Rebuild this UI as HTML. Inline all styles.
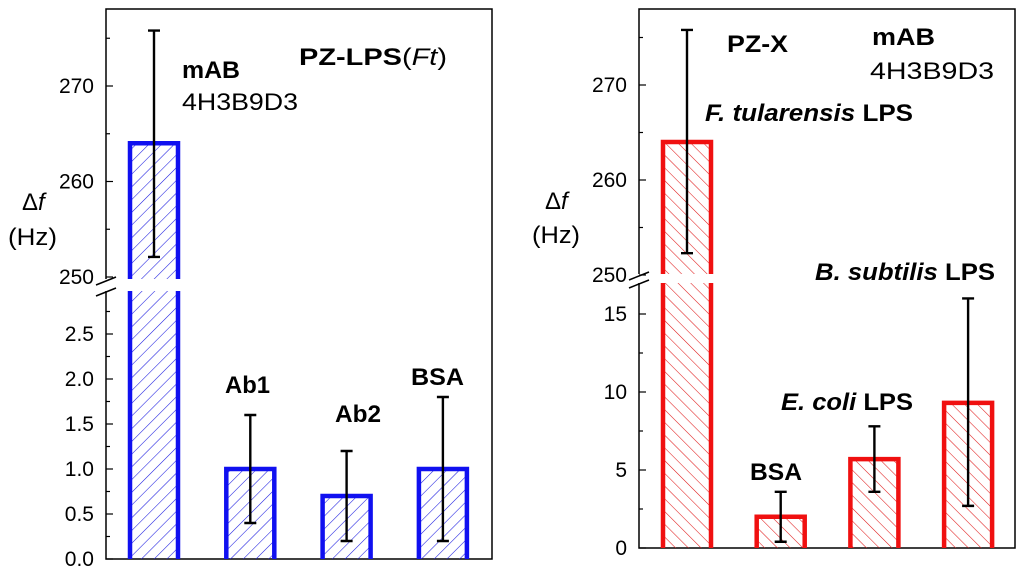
<!DOCTYPE html>
<html><head><meta charset="utf-8"><style>
html,body{margin:0;padding:0;background:#fff;width:1024px;height:576px;overflow:hidden}
svg{display:block;font-family:"Liberation Sans",Arial,sans-serif}
</style></head><body>
<svg id="chart" width="1024" height="576" viewBox="0 0 1024 576" xmlns="http://www.w3.org/2000/svg">
<defs>
<pattern id="hatchBlue" width="9" height="9" patternUnits="userSpaceOnUse" patternTransform="rotate(45)">
<line x1="0" y1="0" x2="0" y2="9" stroke="#1a1ae0" stroke-width="1.1"/></pattern>
<pattern id="hatchRed" width="9" height="9" patternUnits="userSpaceOnUse" patternTransform="rotate(-45)">
<line x1="0" y1="0" x2="0" y2="9" stroke="#e01a1a" stroke-width="1.1"/></pattern>
</defs>
<g id="left"></g>
<g id="right"></g>
<g style="font-size:24px" fill="#000">
<text x="182" y="78" font-weight="bold" textLength="58" lengthAdjust="spacingAndGlyphs">mAB</text>
<text x="182" y="110" textLength="116" lengthAdjust="spacingAndGlyphs">4H3B9D3</text>
<text x="299" y="65" font-weight="bold" textLength="148" lengthAdjust="spacingAndGlyphs">PZ-LPS<tspan font-weight="normal">(<tspan font-style="italic">Ft</tspan>)</tspan></text>
<text x="22" y="210">Δ<tspan font-style="italic">f</tspan></text>
<text x="8" y="245" textLength="49" lengthAdjust="spacingAndGlyphs">(Hz)</text>
<text x="225" y="393" font-weight="bold" textLength="45" lengthAdjust="spacingAndGlyphs">Ab1</text>
<text x="335" y="422" font-weight="bold" textLength="46" lengthAdjust="spacingAndGlyphs">Ab2</text>
<text x="411" y="385" font-weight="bold" textLength="53" lengthAdjust="spacingAndGlyphs">BSA</text>
<text x="727" y="52" font-weight="bold" textLength="61" lengthAdjust="spacingAndGlyphs">PZ-X</text>
<text x="872" y="45" font-weight="bold" textLength="63" lengthAdjust="spacingAndGlyphs">mAB</text>
<text x="870" y="79" textLength="124" lengthAdjust="spacingAndGlyphs">4H3B9D3</text>
<text x="705" y="121" font-weight="bold" textLength="208" lengthAdjust="spacingAndGlyphs"><tspan font-style="italic">F. tularensis</tspan> LPS</text>
<text x="815" y="280" font-weight="bold" textLength="180" lengthAdjust="spacingAndGlyphs"><tspan font-style="italic">B. subtilis</tspan> LPS</text>
<text x="781" y="410" font-weight="bold" textLength="132" lengthAdjust="spacingAndGlyphs"><tspan font-style="italic">E. coli</tspan> LPS</text>
<text x="750" y="480" font-weight="bold" textLength="52" lengthAdjust="spacingAndGlyphs">BSA</text>
<text x="545" y="209">Δ<tspan font-style="italic">f</tspan></text>
<text x="532" y="243" textLength="48" lengthAdjust="spacingAndGlyphs">(Hz)</text>
</g>
</svg>
<script>
const leftCats=["mAB","Ab1","Ab2","BSA"];
const leftVals=[264,1.0,0.7,1.0];
const leftLo=[252.1,0.4,0.2,0.2];
const leftHi=[275.8,1.6,1.2,1.8];
const leftUpTicks=[250,260,270];
const leftUpLabels=["250","260","270"];
const leftLowTicks=[0,0.5,1,1.5,2,2.5];
const leftLowLabels=["0.0","0.5","1.0","1.5","2.0","2.5"];
const rightCats=["F. tularensis LPS","BSA","E. coli LPS","B. subtilis LPS"];
const rightVals=[264,2.0,5.7,9.3];
const rightLo=[252.3,0.4,3.6,2.7];
const rightHi=[275.8,3.6,7.8,16.0];
const rightUpTicks=[250,260,270];
const rightUpLabels=["250","260","270"];
const rightLowTicks=[0,5,10,15];
const rightLowLabels=["0","5","10","15"];

const NS="http://www.w3.org/2000/svg";
function mk(parent,tag,attrs){const e=document.createElementNS(NS,tag);for(const k in attrs)e.setAttribute(k,attrs[k]);parent.appendChild(e);return e;}

function panel(g,cfg,cats,vals,lo,hi,upT,upL,lowT,lowL){
  const yUp=v=>cfg.up0y+(cfg.up0v-v)*cfg.upScale;
  const yLow=v=>cfg.bottom-v*cfg.lowScale;
  const y=v=>v>=cfg.upMin?yUp(v):yLow(Math.min(v,cfg.lowMax));
  const xC=i=>cfg.x0+i*cfg.step;
  const bw=cfg.bw;
  let f=mk(g,'path',{d:`M${cfg.left},${cfg.gapTop} V${cfg.top} H${cfg.right} V${cfg.bottom} H${cfg.left} V${cfg.gapBot}`,fill:'none',stroke:'#000','stroke-width':1.5});
  
  
  [cfg.gapTop+2,cfg.gapBot+1].forEach((yy,k)=>{const l=mk(g,'line',{x1:cfg.left-10,y1:yy+4,x2:cfg.left+10,y2:yy-4,stroke:'#000','stroke-width':1.5});
    
    });
  upT.forEach((t,i)=>{const yy=yUp(t);
    const tk=mk(g,'line',{x1:cfg.left,y1:yy,x2:cfg.left+7,y2:yy,stroke:'#000','stroke-width':1.2});
    
    
    const tx=mk(g,'text',{x:cfg.left-12,y:yy+7,'text-anchor':'end',style:'font-size:21px'});tx.textContent=upL[i];
    
    
    const mv=t+5; if(yUp(mv)>cfg.top+3){const m=mk(g,'line',{x1:cfg.left,y1:yUp(mv),x2:cfg.left+4,y2:yUp(mv),stroke:'#000','stroke-width':1.2});
      
      }
  });
  lowT.forEach((t,i)=>{const yy=yLow(t);
    const tk=mk(g,'line',{x1:cfg.left,y1:yy,x2:cfg.left+7,y2:yy,stroke:'#000','stroke-width':1.2});
    
    
    const tx=mk(g,'text',{x:cfg.left-12,y:yy+7,'text-anchor':'end',style:'font-size:21px'});tx.textContent=lowL[i];
    
    
    const mv=t+cfg.lowMinor; if(yLow(mv)>cfg.gapBot+3){const m=mk(g,'line',{x1:cfg.left,y1:yLow(mv),x2:cfg.left+4,y2:yLow(mv),stroke:'#000','stroke-width':1.2});
      
      }
  });
  vals.forEach((v,i)=>{
    const cx=xC(i), x1=cx-bw/2, x2=cx+bw/2, ty=y(v);
    const slug=cats[i].toLowerCase().replace(/[^a-z0-9]+/g,'-');
    if(v>=cfg.upMin){
      const b1=mk(g,'path',{d:`M${x1},${cfg.gapTop} V${ty} H${x2} V${cfg.gapTop}`,fill:cfg.fill,stroke:cfg.color,'stroke-width':4.5});
      
      
      const r=mk(g,'rect',{x:x1,y:cfg.gapBot,width:bw,height:cfg.bottom-cfg.gapBot,fill:cfg.fill,stroke:'none'});
      
      
      const b2=mk(g,'path',{d:`M${x1},${cfg.bottom} V${cfg.gapBot} M${x2},${cfg.gapBot} V${cfg.bottom}`,fill:'none',stroke:cfg.color,'stroke-width':4.5});
      
      
    } else {
      const b=mk(g,'path',{d:`M${x1},${cfg.bottom} V${ty} H${x2} V${cfg.bottom}`,fill:cfg.fill,stroke:cfg.color,'stroke-width':4.5});
      
      
    }
    const yl=y(lo[i]), yh=y(hi[i]);
    const e=mk(g,'path',{d:`M${cx},${yl} V${yh} M${cx-6},${yl} H${cx+6} M${cx-6},${yh} H${cx+6}`,stroke:'#000','stroke-width':2.4,fill:'none'});
    
    
  });
}
panel(document.getElementById('left'),{left:106,right:492,top:9,bottom:559,gapTop:279,gapBot:291,
  up0v:270,up0y:86,upScale:9.55,upMin:250,lowScale:90,lowMax:3.0,lowMinor:0.25,
  x0:154,step:96.3,bw:48,color:'#1010f0',fill:'url(#hatchBlue)'},leftCats,leftVals,leftLo,leftHi,leftUpTicks,leftUpLabels,leftLowTicks,leftLowLabels);
panel(document.getElementById('right'),{left:639,right:1015,top:9,bottom:548,gapTop:274,gapBot:283,
  up0v:270,up0y:85,upScale:9.5,upMin:250,lowScale:15.6,lowMax:17,lowMinor:2.5,
  x0:687,step:93.7,bw:48,color:'#f01010',fill:'url(#hatchRed)'},rightCats,rightVals,rightLo,rightHi,rightUpTicks,rightUpLabels,rightLowTicks,rightLowLabels);
</script>
</body></html>
